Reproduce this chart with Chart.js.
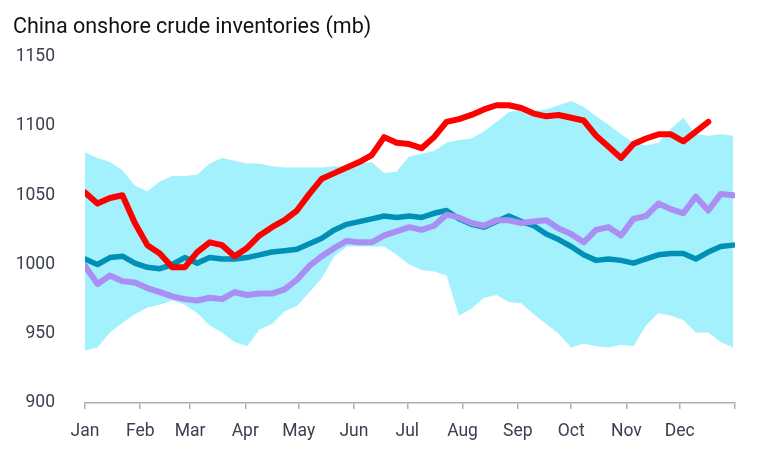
<!DOCTYPE html>
<html>
<head>
<meta charset="utf-8">
<script src="https://cdn.jsdelivr.net/npm/chart.js@4.4.1/dist/chart.umd.min.js"></script>
<style>
  html, body { margin: 0; padding: 0; background: #fff; }
  #wrap { width: 765px; height: 460px; position: relative; }
</style>
</head>
<body>
<div id="wrap"><canvas id="crudeChart"></canvas></div>
<script>
// day of year for each weekly sample
const days = [0, 7, 14, 21, 28, 35, 42, 49, 56, 63, 70, 77, 84, 91, 98, 105, 112, 119, 126, 133,
  140, 147, 154, 161, 168, 175, 182, 189, 196, 203, 210, 217, 224, 231, 238, 245, 252, 259, 266, 273,
  280, 287, 294, 301, 308, 315, 322, 329, 336, 343, 350, 357, 364];

// month ticks (day of year) and their labels
const monthDays = [0, 31, 59, 90, 120, 151, 181, 212, 243, 273, 304, 334, 365];
const monthLabels = ["Jan", "Feb", "Mar", "Apr", "May", "Jun", "Jul", "Aug", "Sep", "Oct", "Nov", "Dec", ""];

// range band (max / min of previous years)
const rangeHigh = [1081, 1077, 1074, 1068, 1057, 1053, 1060, 1064, 1064, 1065, 1073, 1077, 1075, 1073, 1073, 1071, 1070, 1070, 1070, 1070,
  1071, 1071, 1073, 1074, 1066, 1067, 1078, 1080, 1082, 1088, 1090, 1091, 1096, 1103, 1110, 1112, 1111, 1112, 1115, 1118,
  1114, 1107, 1101, 1094, 1088, 1086, 1088, 1098, 1106, 1094, 1093, 1094, 1093];
const rangeLow = [938, 940, 951, 958, 964, 969, 971, 974, 971, 965, 956, 951, 944, 941, 953, 957, 966, 970, 980, 990,
  1006, 1013, 1013, 1013, 1013, 1007, 1000, 996, 995, 992, 963, 968, 976, 978, 973, 972, 964, 957, 950, 940,
  943, 941, 940, 942, 941, 956, 965, 963, 960, 951, 951, 944, 940];

// average line
const avgVals = [1004, 1000, 1005, 1006, 1001, 998, 997, 1000, 1005, 1001, 1005, 1004, 1004, 1005, 1007, 1009, 1010, 1011, 1015, 1019,
  1025, 1029, 1031, 1033, 1035, 1034, 1035, 1034, 1037, 1039, 1033, 1029, 1027, 1031, 1035, 1031, 1028, 1022, 1018, 1013,
  1007, 1003, 1004, 1003, 1001, 1004, 1007, 1008, 1008, 1004, 1009, 1013, 1014];

// previous year
const prevVals = [999, 986, 992, 988, 987, 983, 980, 977, 975, 974, 976, 975, 980, 978, 979, 979, 982, 989, 999, 1006,
  1012, 1017, 1016, 1016, 1021, 1024, 1027, 1025, 1028, 1036, 1034, 1030, 1028, 1032, 1032, 1030, 1031, 1032, 1026, 1022,
  1016, 1025, 1027, 1021, 1033, 1035, 1044, 1040, 1037, 1049, 1039, 1051, 1050];

// current year (ends mid December)
const currVals = [1052, 1044, 1048, 1050, 1030, 1014, 1008, 998, 998, 1009, 1016, 1014, 1006, 1012, 1021, 1027, 1032, 1039, 1051, 1062,
  1066, 1070, 1074, 1079, 1092, 1088, 1087, 1084, 1092, 1103, 1105, 1108, 1112, 1115, 1115, 1113, 1109, 1107, 1108, 1106,
  1104, 1093, 1085, 1077, 1087, 1091, 1094, 1094, 1089, 1096, 1103];

const toPoints = (vals) => vals.map((v, i) => ({ x: days[i], y: v }));

const lineBase = {
    pointRadius: 0,
    tension: 0,
    fill: false,
    borderCapStyle: "round",
    borderJoinStyle: "round",
};

const ctx = document.getElementById("crudeChart").getContext("2d");
new Chart(ctx, {
    type: "line",
    data: {
        datasets: [
            {
                ...lineBase,
                label: "Range high",
                data: toPoints(rangeHigh),
                borderWidth: 0,
                borderColor: "rgba(0,0,0,0)",
                backgroundColor: "#a2f1fd",
                fill: "+1",
                order: 5,
            },
            {
                ...lineBase,
                label: "Range low",
                data: toPoints(rangeLow),
                borderWidth: 0,
                borderColor: "rgba(0,0,0,0)",
                order: 6,
            },
            {
                ...lineBase,
                label: "Average",
                data: toPoints(avgVals),
                borderColor: "#008fb5",
                borderWidth: 5.5,
                order: 3,
            },
            {
                ...lineBase,
                label: "Last year",
                data: toPoints(prevVals),
                borderColor: "#a98ff2",
                borderWidth: 6,
                order: 2,
            },
            {
                ...lineBase,
                label: "This year",
                data: toPoints(currVals),
                borderColor: "#ff0000",
                borderWidth: 6,
                order: 1,
            },
        ],
    },
    options: {
        responsive: true,
        maintainAspectRatio: false,
        animation: false,
        layout: {
            padding: { left: 13, right: 30, top: 0, bottom: 6 },
        },
        plugins: {
            legend: { display: false },
            tooltip: { enabled: false },
            title: {
                display: true,
                text: "China onshore crude inventories (mb)",
                align: "start",
                color: "#111111",
                font: { family: "Roboto", size: 21.5, weight: "normal" },
                padding: { top: 15, bottom: 16 },
            },
        },
        scales: {
            x: {
                type: "linear",
                min: 0,
                max: 365,
                afterBuildTicks: (scale) => {
                    scale.ticks = monthDays.map((d) => ({ value: d }));
                },
                ticks: {
                    autoSkip: false,
                    maxRotation: 0,
                    padding: 12,
                    color: "#3a4050",
                    font: { family: "Roboto", size: 17.5 },
                    callback: (value) => monthLabels[monthDays.indexOf(value)],
                },
                grid: {
                    display: true,
                    drawOnChartArea: false,
                    drawTicks: true,
                    tickLength: 6,
                    color: "#a9b0b8",
                    lineWidth: 1.5,
                },
                border: { display: true, color: "#a9b0b8", width: 1.5 },
            },
            y: {
                min: 900,
                max: 1150,
                afterFit: (scale) => {
                    scale.width = 72;
                },
                ticks: {
                    stepSize: 50,
                    padding: 22,
                    color: "#3a4050",
                    font: { family: "Roboto", size: 17.5 },
                    callback: (value) => String(value),
                },
                grid: { display: false },
                border: { display: false },
            },
        },
    },
});
</script>
</body>
</html>
